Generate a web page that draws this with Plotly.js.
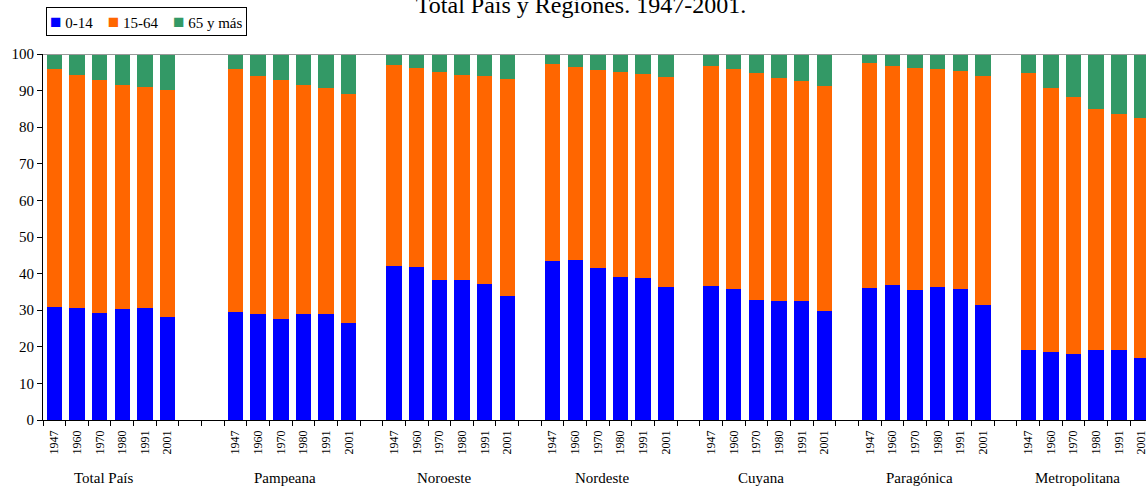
<!DOCTYPE html>
<html>
<head>
<meta charset="utf-8">
<script src="https://cdn.plot.ly/plotly-3.0.1.min.js"></script>
<style>html,body{margin:0;padding:0;background:#fff;overflow:hidden}</style>
</head>
<body>
<div id="chart" style="width:1146px;height:487px"></div>
<script>
// ---- data ----
const regions = ["Total País","Pampeana","Noroeste","Nordeste","Cuyana","Paragónica","Metropolitana"];
const years = ["1947","1960","1970","1980","1991","2001"];
const seriesNames = ["0-14","15-64","65 y más"];
const seriesColors = ["#0000FF","#FF6600","#339966"];

// values per region, in the order of years
const age0_14 = [
  [30.8,30.6,29.2,30.3,30.6,28.1],
  [29.5,28.9,27.6,28.9,28.9,26.5],
  [42.0,41.8,38.2,38.2,37.1,33.9],
  [43.4,43.7,41.5,39.0,38.8,36.3],
  [36.6,35.8,32.8,32.5,32.5,29.8],
  [36.0,36.9,35.5,36.3,35.8,31.4],
  [19.1,18.6,18.0,19.1,19.1,16.9]
];
const age15_64 = [
  [65.0,63.7,63.6,61.2,60.3,62.1],
  [66.3,65.1,65.2,62.6,61.8,62.6],
  [54.9,54.3,56.8,56.0,56.8,59.2],
  [53.8,52.7,54.1,56.0,55.7,57.3],
  [60.1,60.0,61.9,60.9,60.0,61.4],
  [61.5,59.8,60.6,59.5,59.5,62.6],
  [75.6,72.0,70.2,65.8,64.4,65.5]
];
const age65 = [
  [4.2,5.7,7.2,8.5,9.1,9.8],
  [4.2,6.0,7.2,8.5,9.3,10.9],
  [3.1,3.9,5.0,5.8,6.1,6.9],
  [2.8,3.6,4.4,5.0,5.5,6.4],
  [3.3,4.2,5.3,6.6,7.5,8.8],
  [2.5,3.3,3.9,4.2,4.7,6.0],
  [5.3,9.4,11.8,15.1,16.5,17.6]
];
const yTicks = [0,10,20,30,40,50,60,70,80,90,100];
const titleText = "Total País y Regiones. 1947-2001.";

// ---- layout of slots: empty slots between groups (2 after first, then 1) ----
const gapsAfter = [2,1,1,1,1,1];
const groupStart = [];
let s = 0;
regions.forEach((r,g)=>{ groupStart.push(s); s += years.length + (gapsAfter[g]||0); });
const nSlots = s;

const xs = [], xlabels = [];
regions.forEach((r,g)=>{ years.forEach((y,j)=>{ xs.push(groupStart[g]+j); xlabels.push(y); }); });

const flat = a => a.reduce((acc,row)=>acc.concat(row),[]);
const serieValues = [flat(age0_14), flat(age15_64), flat(age65)];

const font = "Liberation Serif, Times New Roman, serif";
const traces = seriesNames.map((n,i)=>({
  type:'bar', name:n, x:xs, y:serieValues[i], width:0.68,
  marker:{color:seriesColors[i], line:{width:0}},
  xaxis:'x', yaxis:'y', hoverinfo:'x+y+name'
}));

const boundaries = [];
for (let k=0;k<=nSlots;k++) boundaries.push(k-0.5);

// compact legend box (text entries coloured by series)
const legendText = seriesNames.map((n,i)=>
  '<span style="color:'+seriesColors[i]+';font-size:19px">■</span> '+n
).join('&nbsp;&nbsp;&nbsp;&nbsp;');

const xRange = [-0.5, 48.2];
const layout = {
  width:1146, height:487,
  margin:{l:43, r:0, t:54, b:67},
  paper_bgcolor:'#fff', plot_bgcolor:'#fff',
  barmode:'stack',
  showlegend:false,
  font:{family:font, color:'#000', size:15},
  title:{text:titleText, font:{family:font, size:24, color:'#000'}, xref:'container', x:0.507, xanchor:'center', yref:'container', y:0.99, yanchor:'middle'},
  xaxis:{range:xRange, tickmode:'array', tickvals:boundaries, showticklabels:false,
    ticks:'outside', ticklen:5, tickcolor:'#000', tickwidth:1,
    showline:true, linecolor:'#000', linewidth:1, showgrid:false, zeroline:false, fixedrange:true},
  xaxis2:{range:xRange, overlaying:'x', anchor:'y', side:'bottom', tickmode:'array', tickvals:xs, ticktext:xlabels,
    tickangle:-90, ticks:'', tickfont:{family:font, size:12, color:'#000'}, ticklabelstandoff:7,
    ticklabeloverflow:'allow',
    showline:false, showgrid:false, zeroline:false, fixedrange:true},
  yaxis:{range:[0,100], tickmode:'array', tickvals:yTicks, ticks:'outside', ticklen:5, tickcolor:'#000',
    showline:true, linecolor:'#000', linewidth:1, showgrid:false, zeroline:false,
    tickfont:{family:font, size:15, color:'#000'}, fixedrange:true},
  shapes:[{type:'line', xref:'paper', x0:0, x1:1, yref:'y', y0:100, y1:100, line:{color:'#999999', width:2}, layer:'above'}],
  annotations: regions.map((r,g)=>({
    text:r, xref:'x', x:groupStart[g]+(years.length-1)/2, xshift:-7, yref:'paper', y:-0.158,
    yanchor:'middle', xanchor:'center', showarrow:false, font:{family:font, size:15, color:'#000'}
  })).concat([{
    text:legendText, xref:'paper', x:0.0025, xanchor:'left', yref:'paper', y:1.129, yanchor:'top',
    showarrow:false, align:'left', bordercolor:'#000', borderwidth:1, borderpad:3, bgcolor:'#fff',
    font:{family:font, size:15, color:'#000'}
  }])
};

// invisible helper trace to activate the year-label axis
traces.push({type:'scatter', x:[xs[0]], y:[0], xaxis:'x2', yaxis:'y', mode:'markers', marker:{opacity:0}, showlegend:false, hoverinfo:'skip'});

Plotly.newPlot('chart', traces, layout, {displayModeBar:false, staticPlot:true});
</script>
</body>
</html>
